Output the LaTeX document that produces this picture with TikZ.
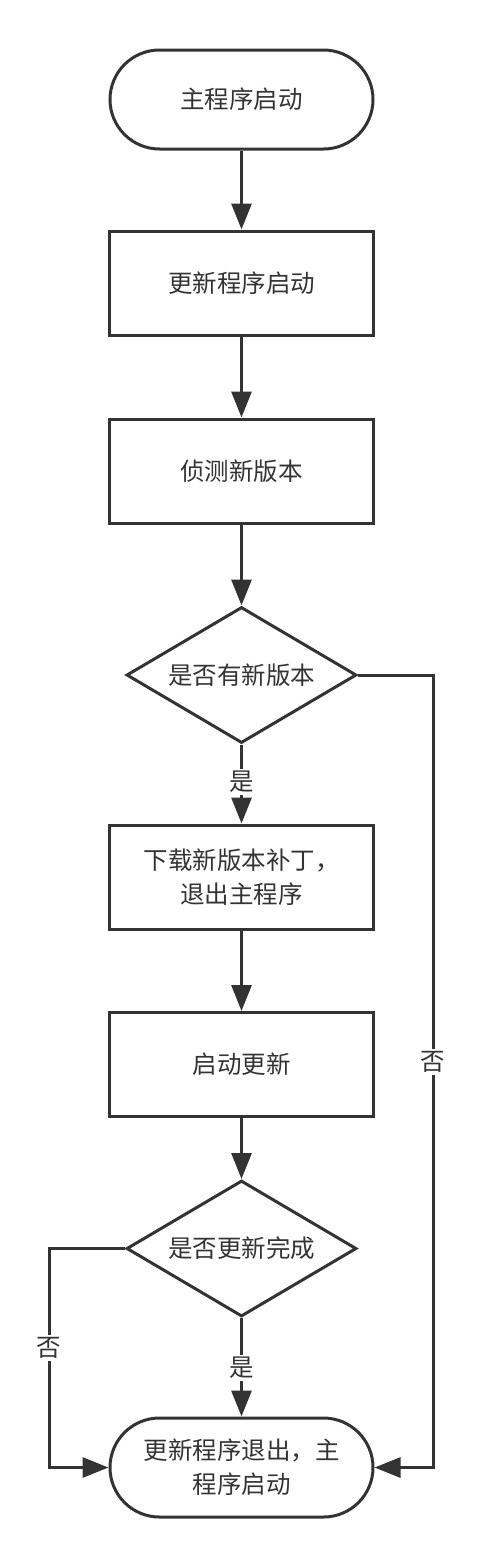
\documentclass[tikz,border=0pt]{standalone}
\usepackage{fontspec}
\setmainfont{Noto Sans CJK SC}
\usetikzlibrary{shapes.geometric,shapes.misc,arrows.meta}
\definecolor{ink}{HTML}{333333}
\begin{document}
\begin{tikzpicture}[x=1pt,y=-1pt,
  every node/.style={font=\fontsize{24.5}{34}\selectfont, text=ink},
  proc/.style={draw=ink, line width=3pt, rectangle, minimum width=264pt, minimum height=104pt, inner sep=0pt, align=center},
  term/.style={draw=ink, line width=3pt, rounded rectangle, minimum width=263pt, minimum height=99pt, inner sep=0pt, align=center},
  dec/.style={draw=ink, line width=3pt, diamond, shape aspect=1.7, minimum width=230pt, minimum height=136pt, inner sep=0pt, align=center},
  arr/.style={draw=ink, line width=3pt, -{Triangle[length=26pt,width=20pt]}},
  lbl/.style={fill=white, inner sep=2pt}]
\useasboundingbox (0,0) rectangle (482,1567);
\node[term] (t1) at (241.5,99.5) {主程序启动};
\node[proc] (b1) at (241.5,283) {更新程序启动};
\node[proc] (b2) at (241.5,471) {侦测新版本};
\node[dec]  (d1) at (241.5,675) {是否有新版本};
\node[proc] (b3) at (241.5,877) {下载新版本补丁，\\退出主程序};
\node[proc] (b4) at (241.5,1064.5) {启动更新};
\node[dec]  (d2) at (241.5,1248.5) {是否更新完成};
\node[term] (t2) at (241.5,1467.5) {更新程序退出，主\\程序启动};
\coordinate (rc) at (433,675);
\coordinate (lc) at (49,1248.5);
\draw[arr] (t1) -- (b1);
\draw[arr] (b1) -- (b2);
\draw[arr] (b2) -- (d1);
\draw[arr] (d1) -- (b3);
\draw[arr] (b3) -- (b4);
\draw[arr] (b4) -- (d2);
\draw[arr] (d2) -- (t2);
\draw[arr] (d1.east) -- (rc) |- (t2.east);
\draw[arr] (d2.west) -- (lc) |- (t2.west);
\node[lbl] (y1) at (241.5,782) {是};
\node[lbl] (y2) at (241.5,1368) {是};
\node[lbl] (n1) at (433,1062) {否};
\node[lbl] (n2) at (49,1348) {否};
\end{tikzpicture}
\end{document}
